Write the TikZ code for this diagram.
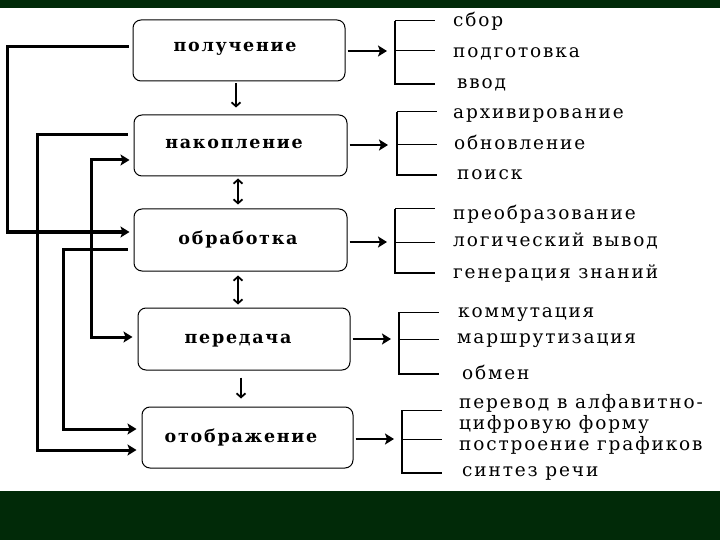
\documentclass[tikz,border=0pt]{standalone}
\usepackage{fontspec}
\setmainfont{Liberation Serif}
\newfontfamily\boxfont{DejaVu Serif}[LetterSpace=10]
\newfontfamily\itemfont{DejaVu Serif}[LetterSpace=10]
\usetikzlibrary{arrows.meta}
\definecolor{band}{RGB}{1,42,8}
\begin{document}
\begin{tikzpicture}[x=1pt,y=-1pt,
  proc/.style={draw,line width=1pt,rounded corners=8pt,inner sep=0pt},
  boxtext/.style={anchor=base,inner sep=0pt,font=\boxfont\bfseries\fontsize{17.5}{21}\selectfont},
  item/.style={anchor=base west,inner sep=0pt,font=\itemfont\fontsize{18.5}{22}\selectfont},
  lconn/.style={line width=3pt,-{Stealth[length=9pt,width=11pt,inset=2pt]}},
  rarrow/.style={line width=2.5pt,-{Stealth[length=9pt,width=11pt,inset=2pt]}},
  varrow/.style={line width=1.8pt,-{Straight Barb[length=4pt,width=9pt]}},
  darrow/.style={line width=1.8pt,{Straight Barb[length=4pt,width=9pt]}-{Straight Barb[length=4pt,width=9pt]}},
  thinl/.style={line width=1pt},
  thickl/.style={line width=2pt}]
\useasboundingbox (0,0) rectangle (720,540);
\fill[band] (0,0) rectangle (720,8);
\fill[band] (0,491) rectangle (720,540);

% boxes
\node[proc,minimum width=212pt,minimum height=61pt] (b1) at (239,50.5) {};
\node[proc,minimum width=213pt,minimum height=61pt] (b2) at (240.5,145.5) {};
\node[proc,minimum width=213pt,minimum height=62pt] (b3) at (240.5,240) {};
\node[proc,minimum width=212pt,minimum height=62pt] (b4) at (244,339) {};
\node[proc,minimum width=211pt,minimum height=61pt] (b5) at (247.5,437.5) {};
\node[boxtext] (t1) at (235,52) {получение};
\node[boxtext] (t2) at (234,149) {накопление};
\node[boxtext] (t3) at (238,244) {обработка};
\node[boxtext] (t4) at (238,343) {передача};
\node[boxtext] (t5) at (241,442) {отображение};

% arrows between boxes
\draw[varrow,shorten <=2pt,shorten >=7pt] (b1.south -| 236,0) -- (b2.north -| 236,0);
\draw[darrow,shorten <=2pt,shorten >=4pt] (b2.south -| 238,0) -- (b3.north -| 238,0);
\draw[darrow,shorten <=4pt,shorten >=3pt] (b3.south -| 238,0) -- (b4.north -| 238,0);
\draw[varrow,shorten <=7pt,shorten >=8pt] (b4.south -| 241,0) -- (b5.north -| 241,0);

% left connectors
\coordinate (a1) at (7,47); \coordinate (a2) at (7,232);
\draw[lconn,shorten <=4pt,shorten >=4pt] (b1.west |- a1) -- (a1) -- (a2) -- (b3.west |- a2);
\coordinate (c1) at (37,135); \coordinate (c2) at (37,450);
\draw[lconn,shorten <=6pt,shorten >=5pt] (b2.west |- c1) -- (c1) -- (c2) -- (b5.west |- c2);
\coordinate (e1) at (91,160); \coordinate (e2) at (91,337);
\draw[lconn,{Stealth[length=9pt,width=11pt,inset=2pt]}-{Stealth[length=9pt,width=11pt,inset=2pt]},shorten <=4pt,shorten >=5pt] (b2.west |- e1) -- (e1) -- (e2) -- (b4.west |- e2);
\coordinate (d1) at (63,249); \coordinate (d2) at (63,429);
\draw[lconn,shorten <=6pt,shorten >=5pt] (b3.west |- d1) -- (d1) -- (d2) -- (b5.west |- d2);

% brackets
\coordinate (k1t) at (395,21); \coordinate (k1m) at (395,51); \coordinate (k1b) at (395,84);
\coordinate (k2t) at (397,112); \coordinate (k2m) at (397,145); \coordinate (k2b) at (397,175);
\coordinate (k3t) at (395,209); \coordinate (k3m) at (395,242); \coordinate (k3b) at (395,273);
\coordinate (k4t) at (399,312); \coordinate (k4m) at (399,339); \coordinate (k4b) at (399,374);
\coordinate (k5t) at (402,410); \coordinate (k5m) at (402,439); \coordinate (k5b) at (402,473);
\foreach \k in {1,...,5}{
  \draw[thinl] (k\k t) -- +(40,0);
  \draw[thinl] (k\k m) -- +(40,0);
  \draw[thickl] (k\k t) -- (k\k b) -- +(40,0);
}
\draw[rarrow,shorten <=2pt,shorten >=8pt] (b1.east |- k1m) -- (k1m);
\draw[rarrow,shorten <=2pt,shorten >=9pt] (b2.east |- k2m) -- (k2m);
\draw[rarrow,shorten <=2pt,shorten >=8pt] (b3.east |- k3m) -- (k3m);
\draw[rarrow,shorten <=2pt,shorten >=8pt] (b4.east |- k4m) -- (k4m);
\draw[rarrow,shorten <=2pt,shorten >=8pt] (b5.east |- k5m) -- (k5m);

% items
\node[item] (i11) at (453,27) {сбор};
\node[item] (i12) at (453,58) {подготовка};
\node[item] (i13) at (457,89) {ввод};
\node[item] (i21) at (453,119) {архивирование};
\node[item] (i22) at (454,150) {обновление};
\node[item] (i23) at (457,180) {поиск};
\node[item] (i31) at (453,219) {преобразование};
\node[item] (i32) at (453,246) {логический вывод};
\node[item] (i33) at (453,278) {генерация знаний};
\node[item] (i41) at (458,317) {коммутация};
\node[item] (i42) at (457,343) {маршрутизация};
\node[item] (i43) at (462,379) {обмен};
\node[item] (i51) at (459,408) {перевод в алфавитно-};
\node[item] (i52) at (459,429) {цифровую форму};
\node[item] (i53) at (459,450) {построение графиков};
\node[item] (i54) at (462,476) {синтез речи};
\end{tikzpicture}
\end{document}
